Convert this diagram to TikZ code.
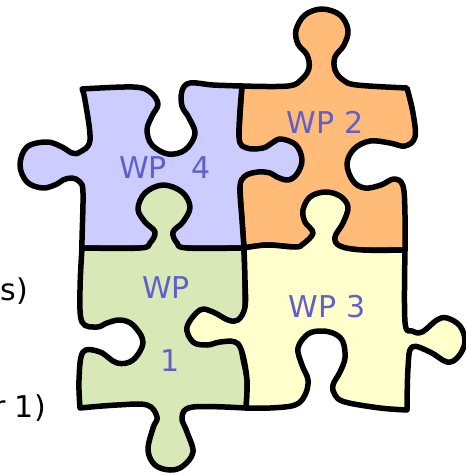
\documentclass[tikz,border=0pt]{standalone}
\usepackage{fontspec}
\setmainfont{DejaVu Sans}
\definecolor{wpblue}{RGB}{204,204,255}
\definecolor{wporange}{RGB}{255,187,119}
\definecolor{wpgreen}{RGB}{217,232,183}
\definecolor{wpyellow}{RGB}{255,255,204}
\definecolor{wptext}{RGB}{96,96,204}
\begin{document}
\begin{tikzpicture}[x=1pt,y=-1pt,
    piece/.style={draw=black, line width=5.5pt, line join=round},
    wp/.style={anchor=base, inner sep=0pt, text=wptext, font=\fontsize{30}{36}\selectfont},
    side/.style={anchor=base east, inner sep=0pt, text=black, font=\fontsize{30}{36}\selectfont}]
                \useasboundingbox (0,0) rectangle (466,475);
                \coordinate (TL) at (82,89);
                \coordinate (TM) at (242,86);
                \coordinate (TR) at (407,88);
                \coordinate (ML) at (82,248);
                \coordinate (MM) at (244,248);
                \coordinate (MR) at (405,250);
                \coordinate (BL) at (80,408);
                \coordinate (BM) at (246,408);
                \coordinate (BR) at (407,410);
                % WP 2
                \filldraw[piece, fill=wporange] plot[smooth, tension=0.6] coordinates {(TM) (288,86) (302,79) (309,68) (307,55) (298,44) (296,30) (305,15) (322,9) (340,15) (348,30) (344,45) (335,57) (335,70) (343,80) (357,85) (TR)}
                    -- plot[smooth, tension=0.6] coordinates {(TR) (413,113) (415,137) (405,146) (390,143) (370,141) (354,149) (347,164) (353,181) (365,188) (381,185) (394,179) (403,186) (405,215) (MR)}
                    -- plot[smooth, tension=0.6] coordinates {(MR) (363,250) (320,247) (295,247) (267,245) (MM)}
                    -- plot[smooth, tension=0.6] coordinates {(MM) (242,220) (240,187) (239,137) (TM)} -- cycle;
                % WP 4
                \filldraw[piece, fill=wpblue] plot[smooth, tension=0.6] coordinates {(TL) (133,87) (150,92) (158,104) (152,116) (147,130) (152,145) (168,154) (185,150) (195,134) (189,118) (182,106) (182,91) (190,83) (213,85) (TM)}
                    -- plot[smooth, tension=0.6] coordinates {(TM) (239,137) (247,148) (263,148) (272,143) (281,139) (296,145) (302,160) (297,174) (288,180) (277,177) (270,173) (258,172) (245,176) (240,187) (242,220) (MM)}
                    -- (ML)
                    -- plot[smooth, tension=0.6] coordinates {(ML) (82,240) (83,193) (80,182) (72,178) (63,180) (57,184) (43,188) (27,182) (20,165) (27,147) (47,142) (62,147) (72,153) (80,152) (90,140) (85,100) (TL)} -- cycle;
                % WP 1
                \filldraw[piece, fill=wpgreen] plot[smooth, tension=0.6] coordinates {(ML) (140,248) (150,243) (155,232) (145,222) (138,209) (145,193) (163,185) (182,192) (190,207) (183,222) (173,232) (177,243) (187,248) (MM)}
                    -- plot[smooth, tension=0.6] coordinates {(MM) (245,280) (245,307) (243,330) (242,352) (247,380) (BM)}
                    -- plot[smooth, tension=0.6] coordinates {(BM) (193,407) (182,417) (187,432) (193,452) (183,466) (170,470) (155,465) (148,450) (153,428) (157,417) (147,405) (117,405) (BL)}
                    -- plot[smooth, tension=0.6] coordinates {(BL) (79,380) (83,352) (100,352) (117,363) (133,360) (143,342) (133,325) (120,320) (107,323) (97,327) (82,322) (80,290) (ML)} -- cycle;
                % WP 3
                \filldraw[piece, fill=wpyellow] plot[smooth, tension=0.6] coordinates {(MM) (267,245) (295,247) (303,244) (313,233) (305,222) (303,210) (310,197) (325,192) (340,196) (348,207) (343,223) (335,237) (340,246) (363,250) (MR)}
                    -- plot[smooth, tension=0.6] coordinates {(MR) (405,322) (412,331) (422,332) (437,320) (447,318) (460,326) (465,342) (458,357) (447,362) (430,352) (412,347) (408,368) (BR)}
                    -- plot[smooth, tension=0.6] coordinates {(BR) (380,408) (345,402) (335,395) (333,385) (340,372) (345,358) (343,342) (335,334) (322,331) (308,334) (298,348) (302,365) (308,380) (305,395) (295,405) (270,408) (BM)}
                    -- plot[smooth, tension=0.6] coordinates {(BM) (247,380) (242,352) (235,342) (220,342) (207,345) (193,342) (187,327) (200,310) (213,312) (228,320) (238,320) (245,307) (245,280) (MM)} -- cycle;
                \node[wp] (wp4) at (165,178) {WP\hspace{25pt}4};
                \node[wp] (wp2) at (325,133) {WP 2};
                \node[wp] (wp3) at (327,317) {WP 3};
                \node[wp] (wp1a) at (166,298) {WP};
                \node[wp] (wp1b) at (170,371) {1};
                \node[side] (sideA) at (28,300) {s)};
                \node[side] (sideB) at (46,417) {r 1)};
            \end{tikzpicture}
\end{document}
